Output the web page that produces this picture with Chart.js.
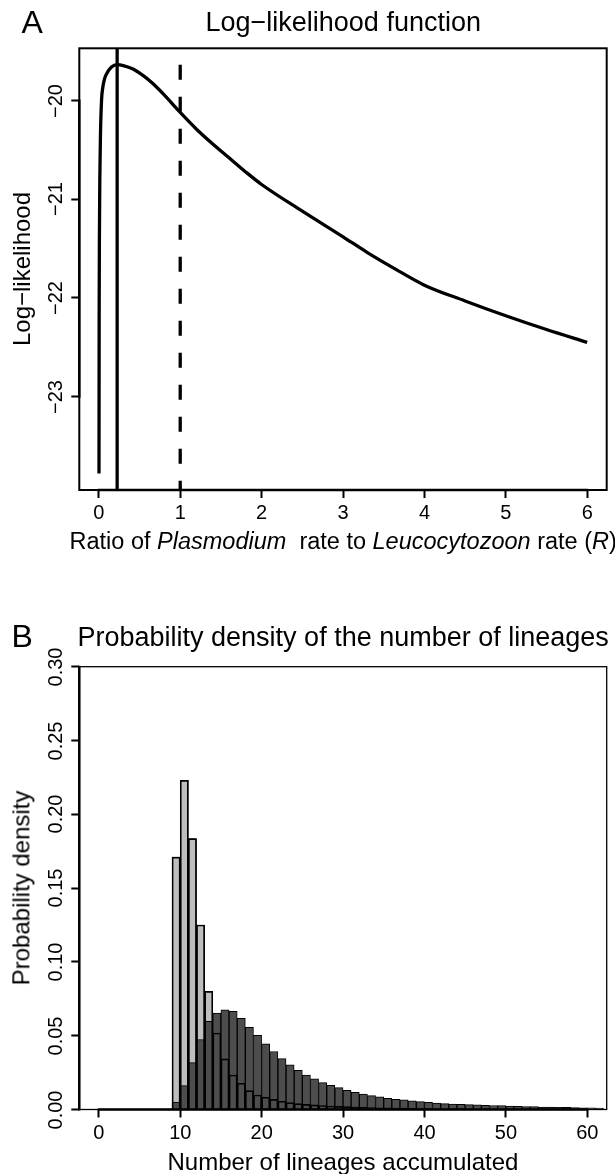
<!DOCTYPE html>
<html>
<head>
<meta charset="utf-8">
<title>Log-likelihood y densidad de linajes</title>
<script src="https://cdn.jsdelivr.net/npm/chart.js@4.4.1/dist/chart.umd.min.js"></script>
<style>
  body { margin: 0; background: #fff; }
  #fig { position: relative; width: 615px; height: 1174px; overflow: hidden; font-family: "Liberation Sans", Arial, sans-serif; color: #000; }
  canvas { position: absolute; left: 0; }
  .t { position: absolute; white-space: nowrap; line-height: 1; }
</style>
</head>
<body>
<div id="fig">
  <canvas id="chartA" width="615" height="587" style="top:0"></canvas>
  <canvas id="chartB" width="615" height="587" style="top:587px"></canvas>
</div>
<script>
// Panel A: log-likelihood de R
const ratioR = [0.002, 0.004, 0.007, 0.012, 0.02, 0.033, 0.05, 0.07, 0.094, 0.156, 0.225, 0.3, 0.42, 0.55, 0.667, 0.8,
                1.0, 1.2, 1.4, 1.6, 1.8, 2.0, 2.5, 3.0, 3.3, 3.65, 4.0, 4.5, 5.0, 5.5, 6.0];
const logLik = [-23.78, -22.2, -21.4, -20.8, -20.35, -20.0, -19.86, -19.78, -19.73, -19.66, -19.636, -19.645, -19.68, -19.75, -19.83, -19.94,
                -20.12, -20.29, -20.44, -20.58, -20.72, -20.85, -21.12, -21.38, -21.54, -21.71, -21.87, -22.03, -22.18, -22.32, -22.45];
const mleR = 0.225;
const nullR = 1;
const ticksRx = [0, 1, 2, 3, 4, 5, 6];
const ticksLL = [-23, -22, -21, -20];

// Panel B: densidad del numero de linajes (barra n cubre n-1..n)
const lineages = [10, 11, 12, 13, 14, 15, 16, 17, 18, 19, 20, 21, 22, 23, 24, 25, 26, 27, 28, 29, 30, 31, 32, 33, 34, 35, 36,
                  37, 38, 39, 40, 41, 42, 43, 44, 45, 46, 47, 48, 49, 50, 51, 52, 53, 54, 55, 56, 57, 58, 59, 60, 61, 62];
const densLight = [0.171, 0.223, 0.1835, 0.125, 0.080, 0.0518, 0.0343, 0.0234, 0.0178, 0.0128, 0.0098, 0.0083, 0.0069, 0.0056, 0.0047, 0.0040, 0.0035, 0.0031,
                   0.0027, 0.0024, 0.0021, 0.0019, 0.0017, 0.0015, 0.0013, 0.0012, 0.0011, 0.0010, 0.0009, 0.0008, 0.0007, 0.0006, 0.0005, 0.0005, 0.0004, 0.0004,
                   0.0003, 0.0003, 0.0003, 0.0002, 0.0002, 0.0002, 0.0002, 0.0001, 0.0001, 0.0001, 0.0001, 0.0001, 0.0001, 0.0001, 0.0001, 0.0001, 0.0001];
const densDark = [0.005, 0.0162, 0.0318, 0.0474, 0.0597, 0.0653, 0.0676, 0.0665, 0.0617, 0.0556, 0.0502, 0.0445, 0.0393, 0.0345, 0.0302, 0.0266, 0.0234, 0.0207,
                  0.0182, 0.0164, 0.0148, 0.0130, 0.0117, 0.0105, 0.0094, 0.0085, 0.0076, 0.0069, 0.0065, 0.0058, 0.0053, 0.0049, 0.0044, 0.0040, 0.0037, 0.0035,
                  0.0033, 0.0031, 0.0028, 0.0027, 0.0026, 0.0024, 0.0022, 0.0020, 0.0019, 0.0017, 0.0016, 0.0015, 0.0014, 0.0013, 0.0012, 0.0011, 0.0010];
const ticksN = [0, 10, 20, 30, 40, 50, 60];
const ticksDens = [0, 0.05, 0.10, 0.15, 0.20, 0.25, 0.30];

const fig = document.getElementById("fig");
const ALTO = 587;

// texto real en HTML; sin rotar: x = centro, y = linea base; rotado: x = linea base, y = centro
function texto(html, x, y, size, rot) {
    let d = document.createElement("div");
    d.className = "t";
    d.innerHTML = html;
    d.style.fontSize = size + "px";
    fig.appendChild(d);
    let w = d.offsetWidth;
    if (rot) {
        let cx = x - 0.3465 * size;
        d.style.left = (cx - w / 2) + "px";
        d.style.top = (y - size / 2) + "px";
        d.style.transform = "rotate(-90deg)";
    } else {
        d.style.left = (x - w / 2) + "px";
        d.style.top = (y - 0.8465 * size) + "px";
    }
}

const marco = {
    id: "marco",
    afterDraw(chart, args, opts) {
        const { ctx, chartArea: a, scales } = chart;
        ctx.save();
        ctx.strokeStyle = "#000";
        ctx.lineWidth = opts.box;
        ctx.strokeRect(a.left, a.top, a.right - a.left, a.bottom - a.top);
        ctx.lineWidth = opts.axis;
        let xt = scales.x.ticks, yt = scales.y.ticks;
        ctx.beginPath();
        ctx.moveTo(scales.x.getPixelForValue(xt[0].value) - 1, a.bottom);
        ctx.lineTo(scales.x.getPixelForValue(xt[xt.length - 1].value) + 1, a.bottom);
        ctx.moveTo(a.left, scales.y.getPixelForValue(yt[0].value) + 1);
        ctx.lineTo(a.left, scales.y.getPixelForValue(yt[yt.length - 1].value) - 1);
        ctx.stroke();
        ctx.restore();
    }
};

function ejes(caja, xmin, xmax, xt, ymin, ymax, yt) {
    let grid = { drawOnChartArea: false, drawTicks: true, offset: false, tickLength: 8, tickWidth: 2, color: "#000", tickColor: "#000" };
    return {
        x: {
            type: "linear", min: xmin, max: xmax, offset: false,
            afterBuildTicks: s => { s.ticks = xt.map(v => ({ value: v })); },
            afterFit: s => { s.height = ALTO - caja.bottom; },
            grid: grid, border: { display: false }, ticks: { display: false }
        },
        y: {
            type: "linear", min: ymin, max: ymax,
            afterBuildTicks: s => { s.ticks = yt.map(v => ({ value: v })); },
            afterFit: s => { s.width = caja.left; },
            grid: grid, border: { display: false }, ticks: { display: false }
        }
    };
}

// ---------- Panel A ----------
const cajaA = { top: 48.3, bottom: 490, left: 79.3, right: 606.7 };
const yMinA = -23.946, yMaxA = -19.47;
const maxLL = Math.max(...logLik);

const chartA = new Chart(document.getElementById("chartA"), {
    type: "scatter",
    data: {
        datasets: [
            { data: ratioR.map((r, i) => ({ x: r, y: logLik[i] })), showLine: true, borderColor: "#000", borderWidth: 3.3,
              pointRadius: 0, cubicInterpolationMode: "monotone" },
            { data: [{ x: mleR, y: yMaxA }, { x: mleR, y: yMinA }], showLine: true, borderColor: "#000", borderWidth: 3.3, pointRadius: 0 },
            { data: [{ x: nullR, y: maxLL }, { x: nullR, y: yMinA }], showLine: true, borderColor: "#000", borderWidth: 3.3,
              borderDash: [15, 17], pointRadius: 0 }
        ]
    },
    options: {
        responsive: false, animation: false, devicePixelRatio: 1,
        layout: { padding: { top: cajaA.top, right: 615 - cajaA.right, left: 0, bottom: 0 } },
        plugins: { legend: { display: false }, tooltip: { enabled: false }, marco: { box: 2, axis: 2.5 } },
        scales: ejes(cajaA, -0.24, 6.24, ticksRx, yMinA, yMaxA, ticksLL)
    },
    plugins: [marco]
});

// ---------- Panel B ----------
const cajaB = { top: 666.7 - ALTO, bottom: 1109.5 - ALTO, left: 79.3, right: 606.7 };
const barras = { grouped: false, barPercentage: 1, categoryPercentage: 1, borderColor: "#000", borderWidth: 1 };
const puntosClaro = lineages.map((n, i) => ({ x: n - 0.5, y: densLight[i] }));
const puntosOscuro = lineages.map((n, i) => ({ x: n - 0.5, y: densDark[i] }));

const chartB = new Chart(document.getElementById("chartB"), {
    type: "bar",
    data: {
        datasets: [
            Object.assign({ data: puntosClaro, backgroundColor: "#bebebe", order: 3 }, barras),
            Object.assign({ data: puntosOscuro, backgroundColor: "#4d4d4d", order: 2 }, barras),
            Object.assign({ data: puntosClaro, backgroundColor: "rgba(0,0,0,0)", order: 1 }, barras)
        ]
    },
    options: {
        responsive: false, animation: false, devicePixelRatio: 1,
        layout: { padding: { top: cajaB.top, right: 615 - cajaB.right, left: 0, bottom: 0 } },
        plugins: { legend: { display: false }, tooltip: { enabled: false }, marco: { box: 1.3, axis: 2.5 } },
        scales: ejes(cajaB, -2.4, 62.4, ticksN, 0, 0.3, ticksDens)
    },
    plugins: [marco]
});

// ---------- Textos ----------
texto("A", 32, 33.3, 32);
texto("Log\u2212likelihood function", 343, 32.3, 27);
chartA.scales.y.ticks.forEach(t => texto(String(t.value).replace("-", "\u2212"), 62, chartA.scales.y.getPixelForValue(t.value), 20, true));
chartA.scales.x.ticks.forEach(t => texto(String(t.value), chartA.scales.x.getPixelForValue(t.value), 519, 20));
texto("Ratio of <i>Plasmodium</i>&nbsp; rate to <i>Leucocytozoon</i> rate (<i>R</i>)", 343, 550, 23.5);
texto("Log\u2212likelihood", 30, (cajaA.top + cajaA.bottom) / 2, 24, true);

texto("B", 22, 647, 32);
texto("Probability density of the number of lineages", 343, 646.7, 27);
chartB.scales.y.ticks.forEach(t => texto(t.value.toFixed(2), 62, ALTO + chartB.scales.y.getPixelForValue(t.value), 20, true));
chartB.scales.x.ticks.forEach(t => texto(String(t.value), chartB.scales.x.getPixelForValue(t.value), 1139, 20));
texto("Number of lineages accumulated", 343, 1170, 24);
texto("Probability density", 30, ALTO + (cajaB.top + cajaB.bottom) / 2, 24, true);
</script>
</body>
</html>
